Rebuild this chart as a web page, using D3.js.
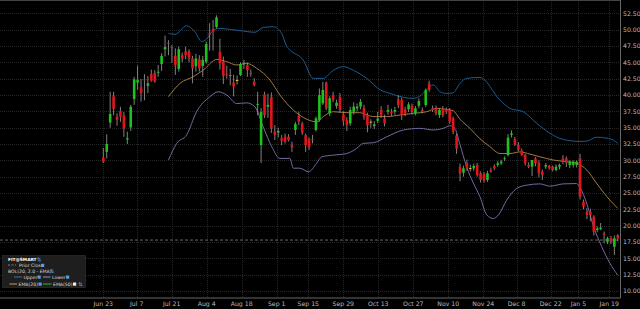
<!DOCTYPE html>
<html><head><meta charset="utf-8">
<script src="https://cdn.jsdelivr.net/npm/d3@7/dist/d3.min.js"></script>
<style>
html,body{margin:0;padding:0;background:#000;overflow:hidden;}
svg{display:block;font-family:"DejaVu Sans",sans-serif;}
</style></head><body>
<div id="chart"></div>
<script>
// daily candles FIT, one per trading day (index 0 = first session)
const opens  = [30.4,31.3,35.8,39.8,36.7,37.55,36.9,33.2,35.05,39.4,41.9,41.2,42.4,41.4,43.2,43.4,43.4,44.75,47.0,48.0,47.35,46.0,44.0,46.1,46.7,46.7,45.6,44.4,45.5,44.45,
  45.1,49.45,50.1,50.4,46.6,45.1,43.2,42.9,41.9,42.3,43.05,44.7,44.6,43.4,42.05,38.5,32.35,40.1,38.2,39.7,34.4,34.25,33.37,33.63,33.63,32.35,34.65,36.79,35.67,33.88,
  33.22,33.27,34.65,36.2,38.73,41.89,37.2,40.0,38.32,39.75,37.04,36.18,35.67,37.45,37.96,38.22,38.06,36.94,35.92,35.26,36.07,37.71,36.43,37.45,37.45,37.45,39.34,39.24,37.81,37.81,
  38.32,37.2,38.37,37.71,38.47,41.79,37.96,37.96,36.94,37.96,37.81,37.71,36.43,33.8,29.04,28.12,29.55,28.8,28.78,29.29,28.02,27.9,27.0,28.5,29.14,29.3,29.55,30.2,30.82,33.9,
  33.24,32.4,31.5,30.82,29.3,29.04,30.3,29.65,28.3,29.04,29.14,29.04,28.53,29.04,30.3,30.3,29.3,29.3,29.3,30.3,23.67,22.14,22.14,21.38,19.34,19.5,18.83,17.55,18.06,16.78,18.57];
const highs  = [31.9,34.0,40.5,40.5,37.2,38.2,37.4,34.4,38.5,42.8,44.5,42.45,43.2,42.9,43.9,43.8,44.6,46.4,49.1,48.4,47.65,47.15,47.4,46.5,47.4,47.0,46.0,46.3,46.1,46.0,
  48.2,51.0,51.5,52.2,48.6,45.9,44.5,44.0,43.1,43.0,45.0,45.4,45.0,43.9,42.6,40.5,38.0,40.5,40.2,40.4,35.4,35.0,33.88,34.1,34.0,32.85,35.9,37.45,35.9,34.1,
  33.5,33.9,36.7,41.0,42.0,42.05,39.8,40.5,39.3,40.3,37.5,36.6,38.2,38.9,38.7,39.4,38.5,37.3,36.3,36.0,37.4,38.3,37.0,38.5,37.9,38.2,40.0,39.6,38.2,38.9,
  38.7,38.3,39.5,38.1,41.0,42.2,38.4,38.4,38.0,38.3,38.1,38.0,36.7,34.1,29.5,29.2,30.1,29.3,29.5,29.6,28.3,28.2,28.4,28.9,29.4,29.9,30.1,30.6,34.0,34.6,
  33.6,32.8,31.8,31.0,29.7,30.0,30.5,30.0,28.6,29.6,29.3,29.2,29.4,29.5,30.8,30.6,30.0,30.0,30.0,31.0,24.0,22.7,22.6,21.6,19.9,20.4,19.1,18.3,18.4,18.5,18.7];
const lows   = [29.6,30.3,35.0,36.9,35.3,35.9,33.6,32.5,34.5,38.5,40.8,39.0,39.2,40.3,42.05,41.9,42.8,43.7,45.9,46.1,44.9,43.1,43.6,45.0,45.5,45.0,41.8,43.6,43.6,42.8,
  44.8,46.8,46.8,50.2,43.9,41.7,42.5,41.5,39.8,41.6,42.9,44.0,42.8,42.8,41.3,36.9,29.6,36.5,36.5,34.2,33.1,33.5,32.35,32.6,32.9,31.3,33.9,35.4,33.9,31.3,
  31.6,32.6,34.4,35.9,38.5,37.7,36.8,38.9,37.9,37.3,35.3,34.5,35.3,37.0,37.5,37.8,36.2,34.3,35.0,34.8,35.7,36.5,35.2,37.0,36.8,37.0,38.0,36.2,36.8,37.4,
  37.0,36.9,38.0,37.2,38.2,40.5,37.4,36.9,36.5,36.6,37.1,35.6,34.0,31.0,26.8,27.5,28.4,28.3,28.4,27.5,26.6,26.6,26.7,28.1,28.5,29.0,29.3,29.9,30.6,33.5,
  32.2,31.4,30.7,29.2,28.8,27.6,29.1,27.4,27.0,28.7,28.6,28.3,28.3,28.6,29.4,29.0,28.8,28.9,28.9,24.0,22.5,21.0,20.7,18.5,19.0,19.3,17.3,17.2,17.2,15.5,17.6];
const closes = [29.8,32.5,37.1,37.9,36.2,36.7,34.9,33.4,38.2,42.4,42.3,40.3,42.25,41.8,42.2,42.05,43.55,46.0,47.35,47.85,47.2,44.6,47.0,45.6,46.1,45.6,44.1,45.6,44.1,45.4,
  47.8,49.25,49.7,51.9,44.9,42.9,43.05,43.05,41.3,42.3,44.75,44.95,43.8,43.2,41.55,38.6,37.4,36.9,38.5,34.9,33.9,34.5,33.01,32.86,33.12,32.0,35.56,35.92,34.24,32.35,
  32.0,33.12,36.43,40.0,40.77,37.96,39.49,39.24,38.83,37.71,36.07,35.41,37.71,38.22,38.22,38.98,36.69,35.41,35.92,35.51,36.38,36.94,35.67,37.71,37.2,37.71,38.47,36.94,37.2,38.57,
  37.45,37.96,39.08,37.45,40.77,40.77,37.71,37.2,37.71,36.94,37.45,35.92,34.39,31.8,28.02,28.78,28.78,28.8,29.14,27.76,27.0,26.9,28.02,28.3,28.78,29.55,29.8,30.31,33.47,34.14,
  32.4,31.6,30.82,29.55,29.04,30.06,29.55,28.02,27.76,29.29,28.78,28.53,29.04,29.3,29.8,29.65,29.8,29.8,29.8,24.44,22.9,21.63,21.63,19.08,19.59,19.7,18.6,18.06,17.55,18.06,18.06];

const priorClose = 17.8;

// BOL(20, 2.0 - EMA) and EMA(20), read at candle positions
const upperAt = [19,20.9,24.3,26.7,28.7,30.1,32.1,34,36.9,40.8,44.2,46.6,49.6,52,53.5,54.4,58.3,61.2,64.1,67.1,70,72.9,76.8,80.7,83.6,87.5,90.4,92.3,94.3,96.2,98.2,100.1,102,104,105.9,109.8,115.7,118.6,122.4,126.4,130.2,134.1,139,141,143.8,146.8,148.7,150];
const upperVal = [49.45,49.3,50.6,49.7,48.2,48.55,49.95,50.2,50.05,49.8,49.6,50.35,50.45,49.45,47.4,46.9,45.35,42.55,42.55,43.8,44.35,43.8,42.55,40.8,40.25,39.65,39.5,39.85,40.8,41.55,40.5,40.25,40.35,41.8,42.55,42.7,39.2,37.95,37.45,35.65,34.15,33.2,32.9,32.95,33.55,33.4,33.1,32.6];
const lowerAt = [19,21.4,24.3,27.2,31.1,33.5,36,38.9,41.8,44.2,46.6,49.1,51.5,54.4,55.4,57.3,59.8,62.2,63.7,67.1,71,73.9,75.8,78.7,82.6,87.5,92.3,96.2,99.1,101.1,102.5,104,105.9,107.9,109.8,111.8,113.7,115.2,117.6,120.5,123.4,127.3,130.2,134.1,138,139,141,142.9,145.3,147.7,150];
const lowerVal = [30.05,32.6,33.9,37.45,39.75,40.5,40.0,38.7,38.8,38.2,35.15,32.1,30.3,30.3,28.8,28.8,28.25,29.55,30.55,30.8,31.05,31.85,32.6,32.7,33.6,34.65,34.9,34.65,34.9,35.3,34.9,32.4,29.05,26.5,24.45,21.65,21.1,21.65,23.9,25.7,26.2,26.4,26.05,26.4,26.45,25.85,23.3,19.9,16.8,14.25,12.4];
const emaAt = [19,22.4,26.2,29.2,33.1,36,38.9,41.8,44.7,48.6,51.5,55.4,59.3,62.2,64.1,67.1,71,74.8,78.7,82.6,86.5,90.4,94.3,97.2,100.1,102,104,106.9,109.8,112.7,115.7,118.6,121.5,124.4,127.3,131.2,135.1,138,141,143.8,146.8,150];
const emaVal = [39.75,41.8,42.8,43.85,45.45,45.1,44.6,44.85,44.1,42.3,40.0,37.7,36.3,35.9,36.7,37.45,37.3,37.3,36.7,36.7,36.95,37.2,37.45,37.95,37.8,37.6,36.3,34.9,33.3,32.1,31.05,31.05,31.3,30.95,30.55,30.05,29.8,29.55,28.5,26.5,24.45,22.65];

const tickLabels = ["Jun 23","Jul 7","Jul 21","Aug 4","Aug 18","Sep 1","Sep 15","Sep 29","Oct 13","Oct 27","Nov 10","Nov 24","Dec 8","Dec 22","Jan 5","Jan 19"];
const tickAt = [0,9.74,19.94,30.15,40.35,50.55,59.77,69.97,80.17,90.38,100.58,110.79,120.5,130.44,138.5,147.5];
const yTicks = [10,12.5,15,17.5,20,22.5,25,27.5,30,32.5,35,37.5,40,42.5,45,47.5,50,52.5];

const width = 640, height = 309;
const plotRight = 620.5, plotBottom = 298;

const svg = d3.select("#chart").append("svg")
  .attr("width", width).attr("height", height)
  .style("background", "#000");

const x = d3.scaleLinear().domain([0, 150]).range([103.3, 617.8]);
const y = d3.scaleLinear().domain([10, 52.5]).range([291, 13.4]);

// grid
svg.append("g").selectAll("line").data(yTicks).enter().append("line")
  .attr("x1", 0).attr("x2", plotRight)
  .attr("y1", d => Math.round(y(d)) + 0.5).attr("y2", d => Math.round(y(d)) + 0.5)
  .attr("stroke", "#262626").attr("stroke-dasharray", "1,1");
svg.append("g").selectAll("line").data(tickAt).enter().append("line")
  .attr("x1", d => Math.round(x(d)) + 0.5).attr("x2", d => Math.round(x(d)) + 0.5)
  .attr("y1", 0).attr("y2", plotBottom)
  .attr("stroke", "#262626").attr("stroke-dasharray", "1,1");

// prior close
svg.append("line")
  .attr("x1", 0).attr("x2", plotRight)
  .attr("y1", y(priorClose)).attr("y2", y(priorClose))
  .attr("stroke", "#666").attr("stroke-dasharray", "3,2");

// frame
svg.append("line").attr("x1", 0).attr("x2", plotRight).attr("y1", 0.5).attr("y2", 0.5).attr("stroke", "#444");
svg.append("line").attr("x1", plotRight).attr("x2", plotRight).attr("y1", 0).attr("y2", plotBottom).attr("stroke", "#666");
svg.append("line").attr("x1", 0).attr("x2", plotRight).attr("y1", plotBottom).attr("y2", plotBottom).attr("stroke", "#666");

// axis labels
svg.append("g").selectAll("text").data(yTicks).enter().append("text")
  .attr("x", 623).attr("y", d => y(d) + 2.3)
  .attr("fill", "#bbb").attr("font-size", 6.2)
  .text(d => d3.format(".2f")(d));
svg.append("g").selectAll("text").data(tickLabels).enter().append("text")
  .attr("x", (d, i) => x(tickAt[i])).attr("y", 305.5)
  .attr("text-anchor", "middle")
  .attr("fill", "#bbb").attr("font-size", 6.2)
  .text(d => d);

// bands
const line = d3.line().x(d => x(d[0])).y(d => y(d[1])).curve(d3.curveMonotoneX);
const bands = [
  [upperAt, upperVal, "#1b5c92"],
  [lowerAt, lowerVal, "#7a66a2"],
  [emaAt, emaVal, "#a07a42"]
];
bands.forEach(b => {
  svg.append("path")
    .datum(b[0].map((v, i) => [v, b[1][i]]))
    .attr("fill", "none").attr("stroke", b[2]).attr("stroke-width", 1)
    .attr("d", line);
});

// candles
const candles = closes.map((c, i) => ({i: i, o: opens[i], h: highs[i], l: lows[i], c: c}));
const bw = 2.6;
const g = svg.append("g");
g.selectAll("line.wick").data(candles).enter().append("line")
  .attr("class", "wick")
  .attr("x1", d => x(d.i)).attr("x2", d => x(d.i))
  .attr("y1", d => y(d.h)).attr("y2", d => y(d.l))
  .attr("stroke", "#909090").attr("stroke-width", 0.9);
g.selectAll("rect").data(candles).enter().append("rect")
  .attr("x", d => x(d.i) - bw / 2)
  .attr("y", d => y(Math.max(d.o, d.c)))
  .attr("width", bw)
  .attr("height", d => Math.max(0.9, Math.abs(y(d.o) - y(d.c))))
  .attr("fill", d => d.c > d.o ? "#1ec21e" : (d.c < d.o ? "#e3141c" : "#e8d21a"));

// legend
const lg = svg.append("g").attr("font-size", 4.6).attr("fill", "#ddd");
lg.append("rect").attr("x", 2.5).attr("y", 255.5).attr("width", 83).attr("height", 32)
  .attr("fill", "#1e1e1e").attr("stroke", "#333").attr("stroke-width", 0.6);
function box(px, py, col) {
  lg.append("rect").attr("x", px).attr("y", py).attr("width", 3.2).attr("height", 3.2).attr("fill", col);
}
function arrows(px, py) {
  lg.append("path")
    .attr("d", `M${px},${py + 1.4} l1.2,-1.4 l1.2,1.4 M${px + 1.2},${py} v3.6 M${px + 1.6},${py + 2.4} l1.2,1.4 l1.2,-1.4 M${px + 2.8},${py + 0.2} v3.6`)
    .attr("fill", "none").attr("stroke", "#5d9be0").attr("stroke-width", 0.6);
}
lg.append("text").attr("x", 8).attr("y", 261).attr("font-weight", "bold").attr("fill", "#fff").attr("font-size", 4.3).text("FIT@SMART");
arrows(37, 257.6);
lg.append("line").attr("x1", 8).attr("x2", 16).attr("y1", 265).attr("y2", 265).attr("stroke", "#999").attr("stroke-dasharray", "2,1.5").attr("stroke-width", 0.8);
lg.append("text").attr("x", 19).attr("y", 266.7).text("Prior Close");
box(41, 263.8, "#5d9be0");
lg.append("text").attr("x", 8).attr("y", 272.5).text("BOL(20, 2.0 - EMA)");
arrows(50, 269.2);
lg.append("line").attr("x1", 14).attr("x2", 22).attr("y1", 277).attr("y2", 277).attr("stroke", "#2a7ac0").attr("stroke-width", 1);
lg.append("text").attr("x", 23.5).attr("y", 278.6).text("Upper");
box(37.5, 275.5, "#5d9be0");
lg.append("line").attr("x1", 43).attr("x2", 50.5).attr("y1", 277).attr("y2", 277).attr("stroke", "#a487d0").attr("stroke-width", 1);
lg.append("text").attr("x", 52).attr("y", 278.6).text("Lower");
box(66, 275.5, "#5d9be0");
lg.append("line").attr("x1", 9.5).attr("x2", 17).attr("y1", 284).attr("y2", 284).attr("stroke", "#d09a50").attr("stroke-width", 1);
lg.append("text").attr("x", 18.5).attr("y", 285.6).text("EMA(20)");
box(38.5, 282.5, "#5d9be0");
lg.append("line").attr("x1", 43).attr("x2", 51.5).attr("y1", 284).attr("y2", 284).attr("stroke", "#1ec21e").attr("stroke-width", 1);
lg.append("text").attr("x", 53).attr("y", 285.6).text("EMA(50)");
box(73, 282.5, "#eee");
arrows(78.5, 282.4);
</script>
</body></html>
